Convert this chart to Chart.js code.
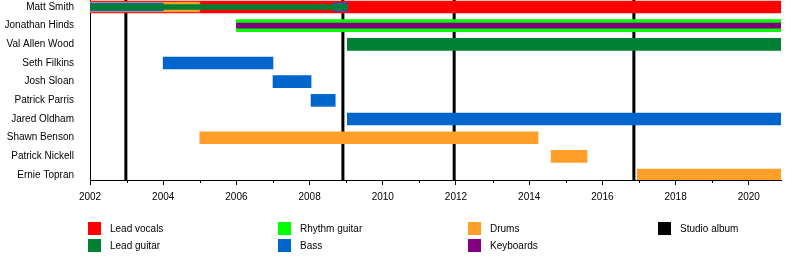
<!DOCTYPE html>
<html>
<head>
<meta charset="utf-8">
<script src="https://cdn.jsdelivr.net/npm/chart.js@4"></script>
<style>
  body { margin: 0; background: #fff; }
  canvas { display: block; }
</style>
</head>
<body>
<canvas id="timeline" width="800" height="260"></canvas>
<script>
// band line-up, years
const END = 2020.88;
const members = ['Matt Smith', 'Jonathan Hinds', 'Val Allen Wood', 'Seth Filkins', 'Josh Sloan',
    'Patrick Parris', 'Jared Oldham', 'Shawn Benson', 'Patrick Nickell', 'Ernie Topran'];
const roles = ['Lead vocals', 'Lead guitar', 'Rhythm guitar', 'Bass', 'Drums', 'Keyboards'];
const roleColors = ['#ff0000', '#008033', '#00ff00', '#0066cc', '#ff9f29', '#800080'];

const leadVocals = [['Matt Smith', 2002, END]];
const leadGuitar = [['Matt Smith', 2002, 2009.03], ['Val Allen Wood', 2009.03, END]];
const rhythmGuitar = [['Jonathan Hinds', 2006, END]];
const bass = [['Matt Smith', 2002, 2004], ['Seth Filkins', 2004, 2007], ['Josh Sloan', 2007, 2008.04],
    ['Patrick Parris', 2008.04, 2008.7], ['Matt Smith', 2008.65, 2009.03], ['Jared Oldham', 2009.03, END]];
const drums = [['Matt Smith', 2002, 2005], ['Shawn Benson', 2005, 2014.24],
    ['Patrick Nickell', 2014.6, 2015.58], ['Ernie Topran', 2016.95, END]];
const keyboards = [['Jonathan Hinds', 2006, END]];

const studioAlbums = [2002.98, 2008.91, 2011.95, 2016.86];
const yearTicks = [2002, 2004, 2006, 2008, 2010, 2012, 2014, 2016, 2018, 2020];
const minorYears = [2003, 2005, 2007, 2009, 2011, 2013, 2015, 2017, 2019];

// which inner layer a role sits in when a member has several (0 = full bar)
const layers = {
    'Matt Smith': { 'Lead vocals': 0, 'Drums': 1, 'Bass': 2, 'Lead guitar': 3 },
    'Jonathan Hinds': { 'Rhythm guitar': 0, 'Keyboards': 3 }
};
const layerThickness = [12, 10, 8, 5];

const periodsByRole = [leadVocals, leadGuitar, rhythmGuitar, bass, drums, keyboards];

const datasets = layerThickness.map((thick, level) => {
    const data = [];
    periodsByRole.forEach((periods, r) => {
        periods.forEach(([name, start, end]) => {
            const lv = (layers[name] && layers[name][roles[r]]) || 0;
            if (lv === level) data.push({ x: [start, end], y: members.indexOf(name), role: r });
        });
    });
    return {
        data: data,
        barThickness: thick,
        backgroundColor: c => roleColors[c.raw.role],
        borderWidth: 0,
        borderSkipped: false,
        grouped: false,
        order: layerThickness.length - level
    };
});

const albumLines = {
    id: 'albumLines',
    beforeDatasetsDraw(chart) {
        const { ctx, chartArea, scales } = chart;
        ctx.save();
        ctx.strokeStyle = '#000';
        ctx.lineWidth = 3;
        studioAlbums.forEach(year => {
            const x = scales.x.getPixelForValue(year);
            ctx.beginPath();
            ctx.moveTo(x, chartArea.top);
            ctx.lineTo(x, chartArea.bottom);
            ctx.stroke();
        });
        ctx.restore();
    }
};

const extras = {
    id: 'extras',
    afterDraw(chart) {
        const { ctx, chartArea, scales } = chart;
        ctx.save();
        // minor year ticks
        ctx.strokeStyle = '#000';
        ctx.lineWidth = 1;
        minorYears.forEach(year => {
            const x = Math.round(scales.x.getPixelForValue(year)) + 0.5;
            ctx.beginPath();
            ctx.moveTo(x, chartArea.bottom);
            ctx.lineTo(x, chartArea.bottom + 3);
            ctx.stroke();
        });
        // legend, filled column by column
        const labels = roles.concat(['Studio album']);
        const colors = roleColors.concat(['#000']);
        ctx.font = '10px "Liberation Sans", Arial, sans-serif';
        ctx.textBaseline = 'middle';
        labels.forEach((label, i) => {
            const x = 88 + Math.floor(i / 2) * 190;
            const y = 222 + (i % 2) * 17;
            ctx.fillStyle = colors[i];
            ctx.fillRect(x, y, 13, 13);
            ctx.fillStyle = '#000';
            ctx.fillText(label, x + 22, y + 7);
        });
        ctx.restore();
    }
};

Chart.defaults.font.family = '"Liberation Sans", Arial, sans-serif';
Chart.defaults.font.size = 10;
Chart.defaults.color = '#000';

new Chart(document.getElementById('timeline'), {
    type: 'bar',
    data: { datasets: datasets },
    options: {
        indexAxis: 'y',
        responsive: false,
        animation: false,
        layout: { padding: { top: 0, right: 19, bottom: 0, left: 0 } },
        plugins: { legend: { display: false }, tooltip: { enabled: false } },
        scales: {
            x: {
                type: 'linear',
                position: 'bottom',
                min: 2002,
                max: END,
                afterBuildTicks: s => { s.ticks = yearTicks.map(v => ({ value: v })); },
                afterFit: s => { s.height = 80; s.paddingLeft = 0; s.paddingRight = 0; },
                ticks: { callback: v => String(v), padding: 6, maxRotation: 0, autoSkip: false },
                grid: { drawOnChartArea: false, drawTicks: true, tickLength: 5, color: '#000' },
                border: { display: true, color: '#000', width: 1 }
            },
            y: {
                type: 'linear',
                reverse: true,
                offset: false,
                min: -0.375,
                max: 9.265,
                afterBuildTicks: s => { s.ticks = members.map((m, i) => ({ value: i })); },
                afterFit: s => { s.width = 90; s.paddingTop = 0; s.paddingBottom = 0; },
                ticks: { callback: v => members[v], padding: 8, autoSkip: false },
                grid: { display: false, offset: false },
                border: { display: true, color: '#000', width: 1 }
            }
        }
    },
    plugins: [albumLines, extras]
});
</script>
</body>
</html>
